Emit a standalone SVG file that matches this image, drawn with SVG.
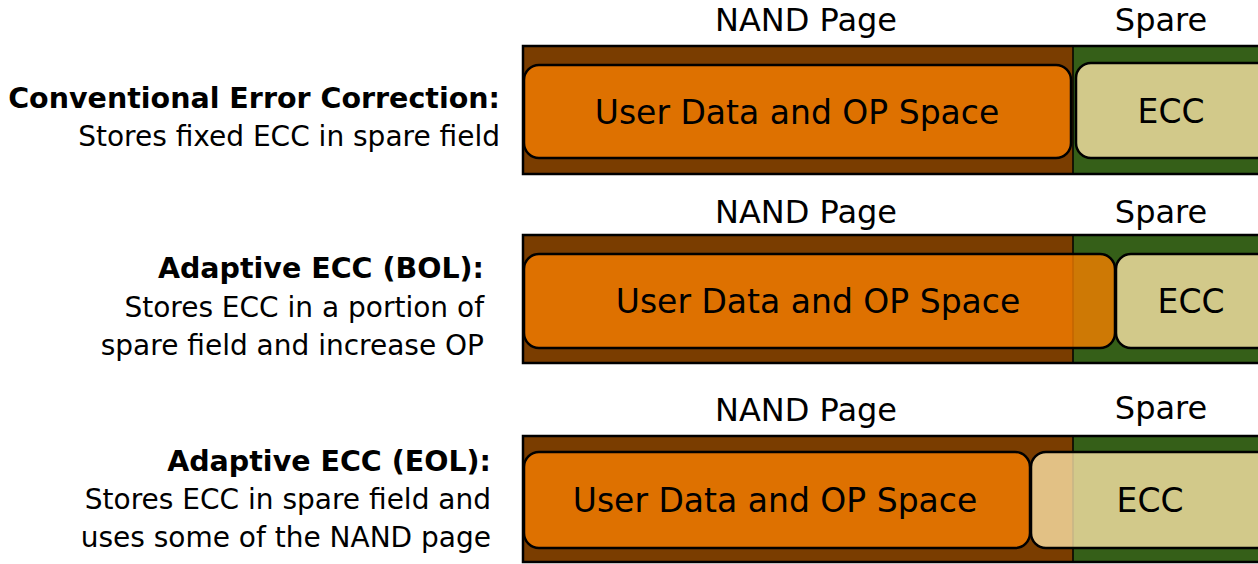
<svg xmlns="http://www.w3.org/2000/svg" width="1258" height="564" viewBox="0 0 1258 564">
<style>
.bg{fill:#ffffff}
.brown{fill:#7A3D00}
.green{fill:#355F18}
.frame{fill:none;stroke:#000;stroke-width:2.5}
.div{stroke:#000;stroke-width:1.5}
.user{fill:#FA8000;fill-opacity:0.78;stroke:#000;stroke-width:2.5}
.ecc{fill:#FFE7AB;fill-opacity:0.78;stroke:#000;stroke-width:2.5}
text{font-family:"DejaVu Sans","Verdana",sans-serif;fill:#000}
.hdr{font-size:32px;text-anchor:middle}
.lbl{font-size:33px;text-anchor:middle}
.ttl{font-size:28.5px;font-weight:bold;text-anchor:end}
.desc{font-size:28px;text-anchor:end}
</style>
<rect class="bg" x="0" y="0" width="1258" height="564"/>

<g id="row1">
  <text class="hdr" x="806" y="31">NAND Page</text>
  <text class="hdr" x="1161" y="31">Spare</text>
  <rect class="brown" x="523" y="46" width="550" height="128"/>
  <rect class="green" x="1073" y="46" width="200" height="128"/>
  <line class="div" x1="1073" y1="46" x2="1073" y2="174"/>
  <rect class="frame" x="523" y="46" width="750" height="128"/>
  <g id="user1"><rect class="user" x="524" y="65" width="547" height="93" rx="15"/>
  <text class="lbl" x="797" y="124">User Data and OP Space</text></g>
  <g id="ecc1"><rect class="ecc" x="1076" y="63" width="200" height="95" rx="15"/>
  <text class="lbl" x="1171" y="123">ECC</text></g>
</g>

<g id="row2">
  <text class="hdr" x="806" y="223">NAND Page</text>
  <text class="hdr" x="1161" y="223">Spare</text>
  <rect class="brown" x="523" y="235" width="550" height="128"/>
  <rect class="green" x="1073" y="235" width="200" height="128"/>
  <line class="div" x1="1073" y1="235" x2="1073" y2="363"/>
  <rect class="frame" x="523" y="235" width="750" height="128"/>
  <g id="user2"><rect class="user" x="524" y="254" width="591" height="94" rx="15"/>
  <text class="lbl" x="818" y="313">User Data and OP Space</text></g>
  <g id="ecc2"><rect class="ecc" x="1116" y="254" width="160" height="94" rx="15"/>
  <text class="lbl" x="1191" y="313">ECC</text></g>
</g>

<g id="row3">
  <text class="hdr" x="806" y="421">NAND Page</text>
  <text class="hdr" x="1161" y="419">Spare</text>
  <rect class="brown" x="523" y="436" width="550" height="126"/>
  <rect class="green" x="1073" y="436" width="200" height="126"/>
  <line class="div" x1="1073" y1="436" x2="1073" y2="562"/>
  <rect class="frame" x="523" y="436" width="750" height="126"/>
  <g id="user3"><rect class="user" x="524" y="452" width="506" height="96" rx="15"/>
  <text class="lbl" x="775" y="512">User Data and OP Space</text></g>
  <g id="ecc3"><rect class="ecc" x="1031" y="452" width="245" height="96" rx="15"/>
  <text class="lbl" x="1150" y="512">ECC</text></g>
</g>

<g id="desc1">
  <text class="ttl" x="500" y="108">Conventional Error Correction:</text>
  <text class="desc" x="500" y="146">Stores fixed ECC in spare field</text>
</g>
<g id="desc2">
  <text class="ttl" x="484" y="278">Adaptive ECC (BOL):</text>
  <text class="desc" x="484" y="317">Stores ECC in a portion of</text>
  <text class="desc" x="484" y="355">spare field and increase OP</text>
</g>
<g id="desc3">
  <text class="ttl" x="491" y="471">Adaptive ECC (EOL):</text>
  <text class="desc" x="491" y="509">Stores ECC in spare field and</text>
  <text class="desc" x="491" y="547">uses some of the NAND page</text>
</g>
<g id="connectors"/>
</svg>
